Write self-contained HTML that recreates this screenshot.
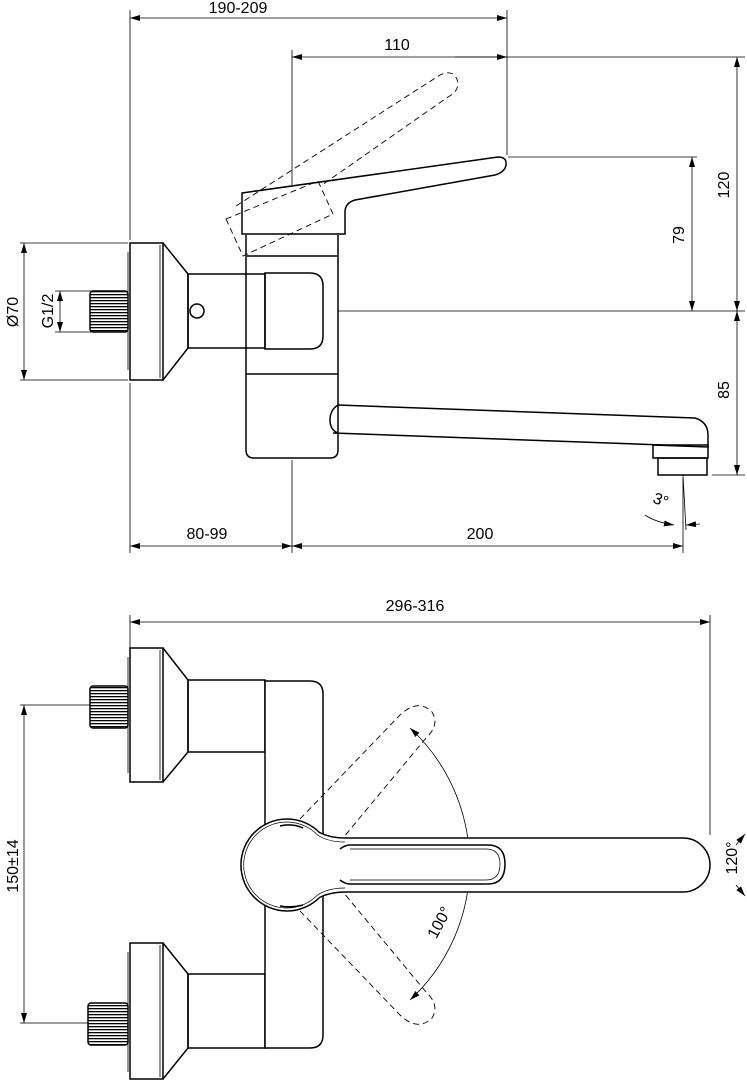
<!DOCTYPE html>
<html><head><meta charset="utf-8"><style>
html,body{margin:0;padding:0;background:#fff;}
svg{display:block;}
text{font-family:"Liberation Sans",sans-serif;font-size:16px;fill:#000;}
</style></head><body>
<svg width="747" height="1080" viewBox="0 0 747 1080" xmlns="http://www.w3.org/2000/svg">
<defs>
<marker id="a" viewBox="0 0 10 6" refX="10" refY="3" markerWidth="14" markerHeight="6" markerUnits="userSpaceOnUse" orient="auto-start-reverse"><path d="M0,0L10,3L0,6z" fill="#000"/></marker>
<pattern id="thr" width="4" height="3" patternUnits="userSpaceOnUse"><rect width="4" height="3" fill="#fff"/><rect width="4" height="1.3" fill="#000"/></pattern>
</defs>
<g stroke="#000" stroke-width="0.8" fill="none">
<path d="M130,10V240 M507,10V155 M292,50V185 M292,460V553 M130,383V553 M508,157H697 M338,311H745 M455,57H745 M712,475H745 M683,478V553 M20,243H128 M20,380H128 M55,291H92 M55,332H92"/>
<path d="M130,18H507" marker-start="url(#a)" marker-end="url(#a)"/>
<path d="M292,57H507" marker-start="url(#a)" marker-end="url(#a)"/>
<path d="M737,57V311" marker-start="url(#a)" marker-end="url(#a)"/>
<path d="M692,157V311" marker-start="url(#a)" marker-end="url(#a)"/>
<path d="M737,311V475" marker-start="url(#a)" marker-end="url(#a)"/>
<path d="M24,243V380" marker-start="url(#a)" marker-end="url(#a)"/>
<path d="M60,291V332" marker-start="url(#a)" marker-end="url(#a)"/>
<path d="M130,546H292" marker-start="url(#a)" marker-end="url(#a)"/>
<path d="M292,546H683" marker-start="url(#a)" marker-end="url(#a)"/>
<path d="M683,475L686,530"/>
<path d="M645,515Q655,522 674,525" marker-end="url(#a)"/>
<path d="M700,524L686,525" marker-end="url(#a)"/>
</g>
<g stroke="#000" stroke-width="1.5" fill="none">
<rect x="130" y="243" width="33" height="137" fill="#fff"/>
<path d="M128,252V370 M160,245V378" stroke-width="0.8"/>
<path d="M163,243L188,274V348L163,380"/>
<rect x="90" y="291" width="38" height="41" fill="url(#thr)" rx="3"/>
<rect x="188" y="274" width="77" height="74"/>
<circle cx="197" cy="311" r="7"/>
<path d="M265,273H310Q323,273 323,286V336Q323,349 310,349H265Z"/>
<path d="M246,235V450Q246,458 254,458H330Q338,458 338,450V235"/>
<path d="M246,374H338 M247,256H337"/>
<path d="M242,234V193L498,157Q507,157 506,165Q505,172 495,175L355,200Q345,203 345,212V234Z"/>
<path d="M338,405L695,418Q708,422 708,435V447L653,445 M333,433L663,445 M338,405Q330,410 330,420Q330,430 338,433"/>
<rect x="653" y="445" width="55" height="13"/>
<rect x="658" y="458" width="49" height="17"/>
</g>
<g stroke="#000" stroke-width="0.9" fill="none" stroke-dasharray="6,4">
<path d="M226,219L243,256L333,214L318,181Z"/>
<path d="M236,206L440,75Q455,68 458,83Q458,92 448,97L322,185"/>
</g>
<g>
<text x="238" y="13" text-anchor="middle">190-209</text>
<text x="397" y="50" text-anchor="middle">110</text>
<text x="207" y="539" text-anchor="middle">80-99</text>
<text x="480" y="539" text-anchor="middle">200</text>
<text transform="translate(729,185) rotate(-90)" text-anchor="middle">120</text>
<text transform="translate(684,235) rotate(-90)" text-anchor="middle">79</text>
<text transform="translate(729,390) rotate(-90)" text-anchor="middle">85</text>
<text transform="translate(18,312) rotate(-90)" text-anchor="middle">Ø70</text>
<text transform="translate(53,311) rotate(-90)" text-anchor="middle">G1/2</text>
<text transform="translate(659,505) rotate(20)" text-anchor="middle">3°</text>
</g>

<g stroke="#000" stroke-width="0.8" fill="none">
<path d="M130,615V660 M710,615V835 M20,705H90 M20,1023H90"/>
<path d="M130,622H710" marker-start="url(#a)" marker-end="url(#a)"/>
<path d="M24,705V1023" marker-start="url(#a)" marker-end="url(#a)"/>
<path d="M410,728A185,185 0 0 1 410,1000" marker-start="url(#a)" marker-end="url(#a)"/>
<path d="M736,845L745,834" marker-end="url(#a)"/>
<path d="M736,885L745,896" marker-end="url(#a)"/>
</g>
<g stroke="#000" stroke-width="1.5" fill="none">
<rect x="130" y="648" width="33" height="134" fill="#fff"/>
<path d="M128,657V773 M160,650V780" stroke-width="0.8"/>
<path d="M163,648L188,680V752L163,782"/>
<rect x="90" y="686" width="38" height="42" rx="3" fill="url(#thr)"/>
<rect x="188" y="680" width="77" height="72"/>
<rect x="130" y="943" width="33" height="136" fill="#fff"/>
<path d="M128,952V1072 M160,945V1077" stroke-width="0.8"/>
<path d="M163,943L188,974V1048L163,1079"/>
<rect x="88" y="1003" width="40" height="42" rx="3" fill="url(#thr)"/>
<rect x="188" y="974" width="77" height="74"/>
<path d="M265,681H310Q323,681 323,694V1035Q323,1048 310,1048H265Z" fill="#fff"/>
<path d="M319.5,832.5Q330,838 345,838H683A27,27 0 0 1 683,892H345Q330,892 319.5,897.5A46,46 0 1 1 319.5,832.5Z" fill="#fff"/>
<path d="M317.5,835Q328,842 345,842 M317.5,895Q328,888 345,888 M317.5,835A43,43 0 1 0 317.5,895" stroke-width="0.7"/>
<path d="M350,845H488Q505,845 505,864Q505,884 488,884H350Q345,884 340,880 M350,845Q345,845 340,849"/>
<path d="M350,849H486Q500,849 500,864Q500,880 486,880H350" stroke-width="0.7"/>
<path d="M280,826Q292,823 303,828 M280,906Q292,908 303,905"/>
</g>
<g stroke="#000" stroke-width="0.9" fill="none" stroke-dasharray="6,4">
<path d="M300,819L400,715Q418,698 432,712Q440,725 426,738L343,838"/>
<path d="M300,911L400,1015Q418,1032 432,1018Q440,1005 426,992L343,892"/>
</g>
<text x="415" y="611" text-anchor="middle">296-316</text>
<text transform="translate(18,866) rotate(-90)" text-anchor="middle">150±14</text>
<text transform="translate(444,925) rotate(-62)" text-anchor="middle">100°</text>
<text transform="translate(737,858) rotate(-90)" text-anchor="middle">120°</text>
</svg>
</body></html>
